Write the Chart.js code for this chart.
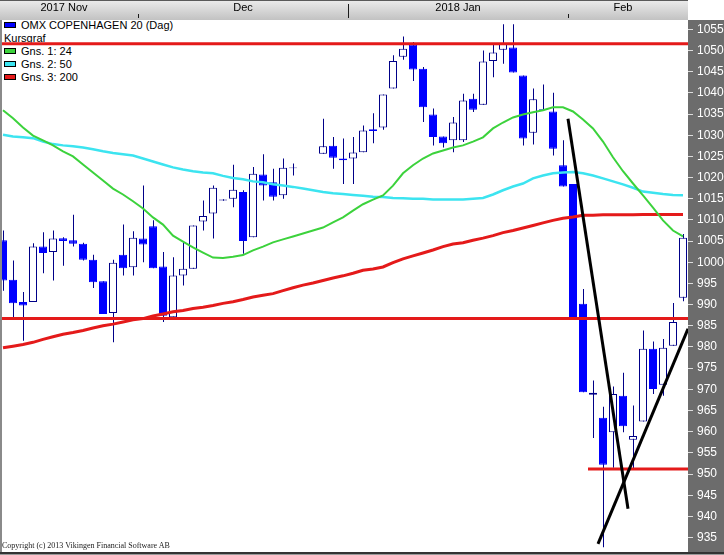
<!DOCTYPE html>
<html>
<head>
<meta charset="utf-8">
<title>OMX COPENHAGEN 20 (Dag)</title>
<script src="https://cdn.jsdelivr.net/npm/chart.js@4.4.1/dist/chart.umd.min.js"></script>
<style>
    body { margin: 0; background: #ffffff; }
    #wrap { position: relative; width: 724px; height: 555px; overflow: hidden; }
    #legend { position: absolute; left: 0; top: 19px; z-index: 0; font: 11px "Liberation Sans", Arial, sans-serif; color: #000; }
    #legend .row { position: relative; height: 13px; line-height: 13px; padding-left: 21px; white-space: nowrap; }
    #legend .row.plain { padding-left: 4px; }
    #legend .box { position: absolute; left: 4px; top: 3px; width: 10px; height: 4px; border: 1px solid #000; }
    #chart { position: absolute; left: 0; top: 0; z-index: 1; }
    #copyright { position: absolute; left: 2px; top: 541px; z-index: 2; font: 8px "Liberation Serif", "Times New Roman", serif; color: #222; white-space: nowrap; }
</style>
</head>
<body>
<div id="wrap">
    <div id="legend"></div>
    <canvas id="chart" width="724" height="555"></canvas>
    <div id="copyright">Copyright (c) 2013 Vikingen Financial Software AB</div>
</div>
<script>
// trading days (Dec 25/26 are empty slots in the source chart)
const days = [
    "2017-11-13", "2017-11-14", "2017-11-15", "2017-11-16", "2017-11-17",
    "2017-11-20", "2017-11-21", "2017-11-22", "2017-11-23", "2017-11-24",
    "2017-11-27", "2017-11-28", "2017-11-29", "2017-11-30", "2017-12-01",
    "2017-12-04", "2017-12-05", "2017-12-06", "2017-12-07", "2017-12-08",
    "2017-12-11", "2017-12-12", "2017-12-13", "2017-12-14", "2017-12-15",
    "2017-12-18", "2017-12-19", "2017-12-20", "2017-12-21", "2017-12-22",
    "2017-12-25", "2017-12-26", "2017-12-27", "2017-12-28", "2017-12-29",
    "2018-01-02", "2018-01-03", "2018-01-04", "2018-01-05", "2018-01-08",
    "2018-01-09", "2018-01-10", "2018-01-11", "2018-01-12", "2018-01-15",
    "2018-01-16", "2018-01-17", "2018-01-18", "2018-01-19", "2018-01-22",
    "2018-01-23", "2018-01-24", "2018-01-25", "2018-01-26", "2018-01-29",
    "2018-01-30", "2018-01-31", "2018-02-01", "2018-02-02", "2018-02-05",
    "2018-02-06", "2018-02-07", "2018-02-08", "2018-02-09", "2018-02-12",
    "2018-02-13", "2018-02-14", "2018-02-15", "2018-02-16"
];

const opens = [
    1005.2, 995.9, 990.6, 990.6, 1003.7, 1002.4, 1005.7, 1005.2, 1004.4, 1000.6,
    995.5, 988.0, 1001.8, 998.8, 1005.6, 1008.5, 999.0, 987.0, 996.9, 998.5,
    1009.6, 1011.5, 1014.6, 1015.0, 1016.6, 1005.9, 1020.7, 1018.9, 1015.8, 1022.2,
    null, null, 1025.6, 1027.5, 1024.5, 1024.5, 1026.0, 1031.4, 1031.8, 1041.0,
    1048.5, 1051.4, 1045.7, 1034.9, 1029.7, 1028.8, 1028.8, 1038.6, 1037.2, 1047.5,
    1050.2, 1050.7, 1044.1, 1030.6, 1036.2, 1035.6, 1022.9, 1018.5, 990.2, 968.7,
    963.3, 959.9, 968.5, 958.1, 962.4, 979.6, 971.1, 980.3, 991.6
];
const highs = [
    1007.5, 1000.4, 993.0, 1004.5, 1007.1, 1007.5, 1005.9, 1011.2, 1004.6, 1001.8,
    995.5, 1000.6, 1008.9, 1007.3, 1018.1, 1009.9, 1002.4, 1001.2, 1004.8, 1008.7,
    1014.6, 1018.1, 1014.9, 1023.0, 1017.0, 1022.5, 1025.5, 1022.1, 1024.5, 1023.3,
    null, null, 1033.9, 1029.6, 1029.2, 1029.6, 1032.3, 1035.2, 1039.6, 1048.9,
    1053.3, 1052.0, 1046.1, 1036.3, 1029.7, 1034.3, 1039.8, 1039.8, 1050.0, 1051.6,
    1056.2, 1056.2, 1044.1, 1041.0, 1042.0, 1040.0, 1028.8, 1018.5, 993.7, 972.1,
    965.9, 970.7, 973.9, 966.2, 983.9, 981.3, 981.9, 990.4, 1006.7
];
const lows = [
    993.3, 986.7, 981.5, 990.6, 997.4, 995.7, 999.2, 1003.7, 1000.4, 993.9,
    987.8, 981.1, 996.9, 996.9, 1000.0, 998.6, 985.9, 986.4, 994.5, 998.5,
    1007.5, 1005.6, 1014.5, 1013.0, 1002.0, 1005.9, 1014.6, 1014.6, 1015.0, 1020.5,
    null, null, 1025.6, 1022.1, 1018.5, 1018.5, 1026.0, 1028.1, 1031.3, 1041.0,
    1047.8, 1042.8, 1033.1, 1027.6, 1027.1, 1026.0, 1028.4, 1035.5, 1037.2, 1043.7,
    1046.9, 1044.8, 1027.6, 1027.8, 1035.9, 1025.2, 1017.9, 986.7, 969.3, 958.5,
    932.7, 951.5, 959.9, 951.2, 962.4, 968.9, 968.5, 980.3, 990.8
];
const closes = [
    995.7, 990.3, 989.8, 1003.7, 1002.2, 1005.6, 1005.0, 1004.4, 1000.6, 995.3,
    987.8, 999.9, 998.6, 1005.8, 1004.2, 998.6, 987.4, 996.9, 998.5, 1008.7,
    1010.9, 1017.6, 1014.8, 1017.1, 1005.0, 1020.9, 1018.1, 1015.5, 1022.3, 1022.4,
    null, null, 1027.4, 1024.7, 1024.1, 1025.9, 1031.1, 1031.0, 1039.6, 1047.5,
    1050.4, 1045.5, 1036.6, 1029.6, 1028.1, 1033.0, 1038.2, 1036.0, 1047.4, 1049.5,
    1051.6, 1044.8, 1029.2, 1038.5, 1036.0, 1026.8, 1017.9, 986.7, 969.3, 969.2,
    952.2, 968.9, 961.3, 959.0, 979.6, 970.1, 979.8, 985.9, 1005.8
];

// moving averages (Gns. 1: 24, Gns. 2: 50, Gns. 3: 200)
const ma24 = [
    1035.9, 1034.0, 1031.8, 1029.9, 1028.8, 1027.6, 1026.2, 1025.0, 1023.1, 1021.2,
    1019.3, 1017.4, 1016.0, 1014.4, 1012.7, 1010.6, 1008.9, 1006.3, 1004.9, 1003.5,
    1002.3, 1001.1, 1001.0, 1001.3, 1001.7, 1002.8, 1003.7, 1004.7, 1005.4, 1006.1,
    1006.8, 1007.5, 1008.2, 1009.4, 1010.6, 1012.2, 1013.7, 1014.8, 1015.8, 1018.1,
    1021.0, 1022.9, 1024.5, 1025.7, 1026.4, 1027.1, 1027.6, 1028.5, 1029.5, 1031.6,
    1033.0, 1034.2, 1034.9, 1035.4, 1035.9, 1036.6, 1036.6, 1035.6, 1033.7, 1031.6,
    1028.5, 1024.8, 1021.5, 1018.6, 1015.8, 1012.9, 1009.9, 1007.5, 1006.1
];
const ma50 = [
    1030.1, 1029.7, 1029.5, 1029.3, 1028.5, 1027.9, 1027.6, 1027.4, 1027.1, 1026.7,
    1026.2, 1025.8, 1025.5, 1025.2, 1024.5, 1023.8, 1023.1, 1022.4, 1021.9, 1021.5,
    1021.2, 1021.0, 1020.4, 1019.9, 1019.6, 1019.1, 1018.9, 1018.4, 1018.1, 1017.8,
    1017.4, 1017.0, 1016.6, 1016.3, 1016.1, 1015.9, 1015.7, 1015.5, 1015.4, 1015.2,
    1015.1, 1015.0, 1015.0, 1014.8, 1014.8, 1014.8, 1014.8, 1015.0, 1015.2, 1016.0,
    1017.0, 1017.9, 1018.6, 1019.8, 1020.5, 1021.0, 1021.2, 1021.3, 1021.0, 1020.5,
    1019.8, 1019.1, 1018.4, 1017.6, 1016.7, 1016.4, 1016.1, 1015.9, 1015.8
];
const ma200 = [
    979.8, 980.2, 980.6, 981.1, 981.8, 982.4, 983.0, 983.4, 983.9, 984.5,
    985.0, 985.4, 985.9, 986.4, 986.7, 987.3, 987.8, 988.3, 988.6, 989.1,
    989.4, 989.8, 990.3, 990.7, 991.2, 991.8, 992.2, 992.6, 993.3, 994.0,
    994.6, 995.1, 995.7, 996.3, 996.8, 997.4, 998.1, 998.4, 998.9, 999.9,
    1000.8, 1001.5, 1002.2, 1002.9, 1003.7, 1004.3, 1004.6, 1005.2, 1005.7, 1006.3,
    1007.0, 1007.5, 1008.1, 1008.7, 1009.3, 1009.9, 1010.4, 1010.7, 1011.1, 1011.1,
    1011.2, 1011.2, 1011.2, 1011.2, 1011.3, 1011.3, 1011.3, 1011.3, 1011.3
];

// drawn lines, in day index / index points
const resistanceLine = [{ x: -0.3, y: 1051.6 }, { x: 68.5, y: 1051.6 }];
const supportLine = [{ x: -0.3, y: 986.7 }, { x: 68.5, y: 986.7 }];
const bottomLine = [{ x: 58.5, y: 951.2 }, { x: 68.5, y: 951.2 }];
const trendDown = [{ x: 56.5, y: 1033.9 }, { x: 62.5, y: 941.8 }];
const trendUp = [{ x: 59.5, y: 933.5 }, { x: 68.5, y: 984.3 }];

// axis labels
const yTicks = [935, 940, 945, 950, 955, 960, 965, 970, 975, 980, 985, 990, 995,
    1000, 1005, 1010, 1015, 1020, 1025, 1030, 1035, 1040, 1045, 1050, 1055];
const monthNames = ["2017 Nov", "Dec", "2018 Jan", "Feb"];
const monthCenters = [6.1, 24, 45.5, 62];
const monthBounds = [13.5, 34.5, 56.5];
const yearBound = 34.5;

const legendItems = [
    { label: "OMX COPENHAGEN 20 (Dag)", color: "#0000ff" },
    { label: "Kursgraf", color: null },
    { label: "Gns. 1: 24", color: "#3cd23c" },
    { label: "Gns. 2: 50", color: "#3ce4f0" },
    { label: "Gns. 3: 200", color: "#e41a1a" }
];

const X_MIN = -0.3, X_MAX = 68.5;
const Y_MIN = 931.6, Y_MAX = 1057.2;
const BLUE = "#0000ff";
const NAVY = "#000088";
const RED = "#e41a1a";

const legend = document.getElementById("legend");
legendItems.forEach(item => {
    const row = document.createElement("div");
    row.className = item.color ? "row" : "row plain";
    if (item.color) {
        const box = document.createElement("span");
        box.className = "box";
        box.style.background = item.color;
        row.appendChild(box);
    }
    row.appendChild(document.createTextNode(item.label));
    legend.appendChild(row);
});

const tradeIdx = days.map((d, i) => i).filter(i => opens[i] !== null);
const wickData = tradeIdx.map(i => ({ x: i, y: [lows[i], highs[i]] }));
const bodyData = tradeIdx.map(i => ({ x: i, y: [opens[i], closes[i]] }));
const isUp = i => closes[i] >= opens[i];

const series = arr => arr.map((v, i) => ({ x: i, y: v }));

function lineSet(label, data, color, width, order) {
    return {
        type: "line", label, data, order,
        borderColor: color, borderWidth: width,
        pointRadius: 0, tension: 0, fill: false,
        xAxisID: "x", yAxisID: "y"
    };
}

// backgrounds for header and price axis
const framePlugin = {
    id: "frame",
    beforeDraw(chart) {
        const ctx = chart.ctx;
        const area = chart.chartArea;
        const top = chart.scales.xTop;
        ctx.save();
        const g = ctx.createLinearGradient(0, top.top, 0, top.bottom);
        g.addColorStop(0, "#ececec");
        g.addColorStop(1, "#c2c2c2");
        ctx.fillStyle = g;
        ctx.fillRect(area.left, top.top, area.right - area.left, top.bottom - top.top);
        ctx.fillStyle = "#5a5a5a";
        ctx.fillRect(area.left, 0, area.right - area.left, 1);
        ctx.fillStyle = "#1a1a1a";
        monthBounds.forEach(b => {
            const px = Math.round(top.getPixelForValue(b));
            const y0 = b === yearBound ? top.top + 4 : top.bottom - 6;
            ctx.fillRect(px, y0, 1, top.bottom - 2 - y0);
        });
        ctx.fillStyle = "#6c6c6c";
        ctx.fillRect(area.right, area.top, chart.width - area.right, area.bottom - area.top);
        ctx.restore();
    },
    afterDraw(chart) {
        const ctx = chart.ctx;
        const area = chart.chartArea;
        ctx.save();
        ctx.fillStyle = "#8a8a8a";
        ctx.fillRect(0, area.top, 2, area.bottom - area.top);
        ctx.fillStyle = "#333333";
        ctx.fillRect(0, area.bottom, chart.width, 2);
        ctx.fillStyle = "#9a9a9a";
        ctx.fillRect(0, area.bottom + 2, chart.width, 1);
        ctx.restore();
    }
};

Chart.defaults.font.family = "'Liberation Sans', Arial, sans-serif";

new Chart(document.getElementById("chart"), {
    type: "bar",
    data: {
        datasets: [
            lineSet("trend down", trendDown, "#000000", 3, 0),
            lineSet("trend up", trendUp, "#000000", 3, 0),
            lineSet("resistance", resistanceLine, RED, 3, 1),
            lineSet("support", supportLine, RED, 3, 1),
            lineSet("bottom", bottomLine, RED, 3, 1),
            lineSet("Gns. 1: 24", series(ma24), "#3cd23c", 2, 2),
            lineSet("Gns. 2: 50", series(ma50), "#3ce4f0", 2.5, 3),
            lineSet("Gns. 3: 200", series(ma200), RED, 3, 4),
            {
                label: "body",
                data: bodyData,
                order: 5,
                grouped: false,
                barThickness: 8,
                inflateAmount: 0,
                borderSkipped: false,
                borderWidth: 1,
                backgroundColor: c => isUp(c.raw.x) ? "#ffffff" : BLUE,
                borderColor: c => isUp(c.raw.x) ? NAVY : BLUE,
                xAxisID: "x", yAxisID: "y"
            },
            {
                label: "wick",
                data: wickData,
                order: 6,
                grouped: false,
                barThickness: 1,
                inflateAmount: 0,
                borderWidth: 0,
                backgroundColor: NAVY,
                xAxisID: "xWick", yAxisID: "y"
            }
        ]
    },
    options: {
        responsive: false,
        animation: false,
        devicePixelRatio: 1,
        layout: { padding: { left: 0, right: 0, top: 0, bottom: 3 } },
        plugins: { legend: { display: false }, tooltip: { enabled: false } },
        scales: {
            x: { type: "linear", min: X_MIN, max: X_MAX, offset: false, display: false },
            xWick: { type: "linear", min: X_MIN - 0.05, max: X_MAX - 0.05, offset: false, display: false },
            xTop: {
                type: "linear", position: "top", min: X_MIN, max: X_MAX, offset: false,
                grid: { display: false, drawTicks: false },
                border: { display: false },
                afterBuildTicks: s => { s.ticks = monthCenters.map(v => ({ value: v })); },
                afterFit: s => { s.height = 20; s.paddingLeft = 0; s.paddingRight = 0; },
                ticks: {
                    autoSkip: false, maxRotation: 0, padding: 5, color: "#000000",
                    font: { size: 11 },
                    callback: (v, i) => monthNames[i]
                }
            },
            y: {
                position: "right", min: Y_MIN, max: Y_MAX,
                afterBuildTicks: s => { s.ticks = yTicks.map(v => ({ value: v })); },
                // the price labels sit inside the axis strip, so no extra room is needed
                afterFit: s => { s.width = 36; s.paddingTop = 0; s.paddingBottom = 0; },
                grid: { drawOnChartArea: false, drawTicks: true, tickLength: 5, color: "#dddddd", lineWidth: 1 },
                border: { display: false },
                ticks: { color: "#ffffff", padding: 4, font: { size: 12 }, callback: v => String(v) }
            }
        }
    },
    plugins: [framePlugin]
});
</script>
</body>
</html>
